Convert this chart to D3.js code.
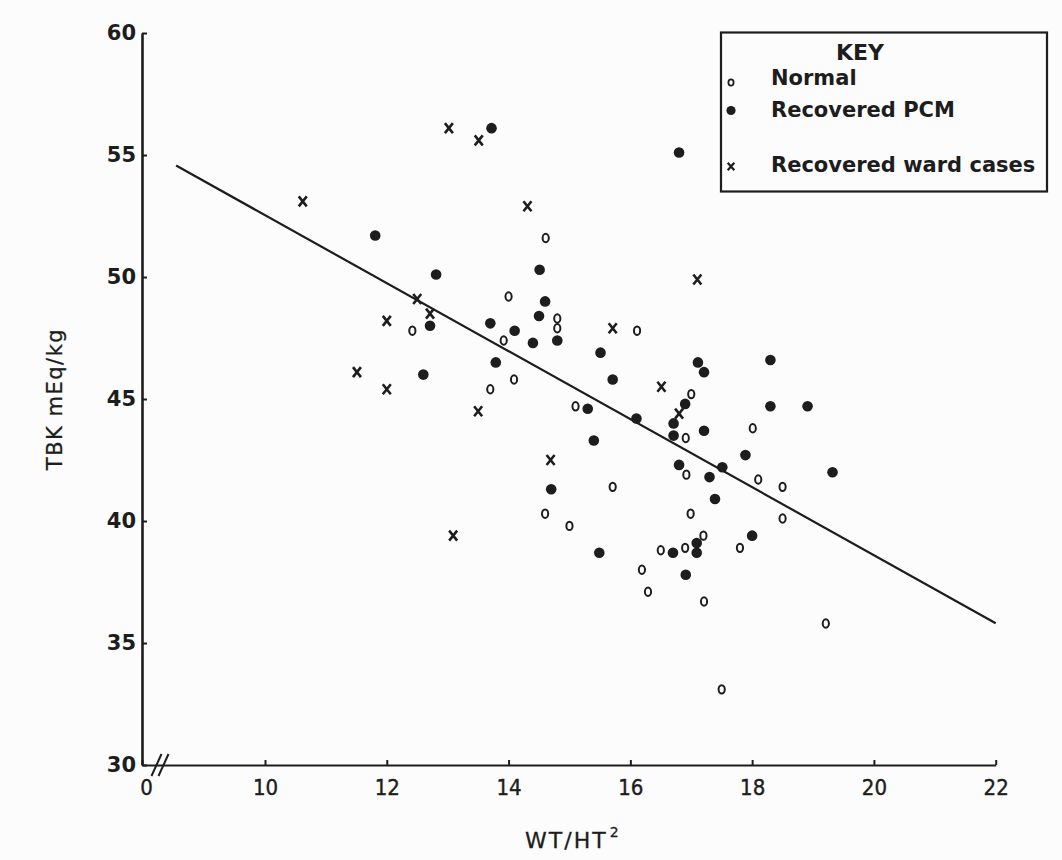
<!DOCTYPE html>
<html><head><meta charset="utf-8">
<script src="https://cdn.jsdelivr.net/npm/d3@7/dist/d3.min.js"></script>
<style>
body{margin:0;background:#fcfcfc;}
svg{display:block;}
</style>
</head><body>
<svg id="chart" width="1062" height="860"></svg>
<script>
// ---------- data ----------
const normalX = [14.61,14.00,14.80,14.80,12.42,16.11,13.92,14.09,13.70,15.10,17.00,16.91,18.01,16.92,18.10,18.50,15.71,18.50,14.60,15.00,16.99,16.50,16.90,17.20,17.80,16.19,16.29,17.21,19.21,17.50];
const normalY = [51.6,49.2,48.3,47.9,47.8,47.8,47.4,45.8,45.4,44.7,45.2,43.4,43.8,41.9,41.7,41.4,41.4,40.1,40.3,39.8,40.3,38.8,38.9,39.4,38.9,38.0,37.1,36.7,35.8,33.1];

const pcmX = [13.72,16.80,11.81,12.81,14.51,14.60,14.50,12.71,13.70,14.10,14.40,14.80,13.79,12.60,15.51,15.71,17.11,17.21,18.30,15.40,15.30,16.10,16.90,16.71,16.71,17.21,18.30,18.91,17.89,16.80,17.51,17.30,19.32,14.70,17.39,15.49,16.70,17.09,17.09,18.00,16.91];
const pcmY = [56.1,55.1,51.7,50.1,50.3,49.0,48.4,48.0,48.1,47.8,47.3,47.4,46.5,46.0,46.9,45.8,46.5,46.1,46.6,43.3,44.6,44.2,44.8,44.0,43.5,43.7,44.7,44.7,42.7,42.3,42.2,41.8,42.0,41.3,40.9,38.7,38.7,39.1,38.7,39.4,37.8];

const wardX = [13.02,13.51,10.62,14.31,12.50,12.71,12.00,15.71,11.51,12.00,13.50,16.51,16.80,14.69,13.09,17.10];
const wardY = [56.1,55.6,53.1,52.9,49.1,48.5,48.2,47.9,46.1,45.4,44.5,45.5,44.4,42.5,39.4,49.9];

const lineX = [8.54, 22];
const lineY = [54.57, 35.81];

const xTickValues = [10, 12, 14, 16, 18, 20, 22];
const yTickValues = [30, 35, 40, 45, 50, 55, 60];
const xAxisStart = 7.98;           // value at the broken origin, labelled "0"
const xOriginLabel = "0";
const seriesLabels = ["Normal", "Recovered PCM", "Recovered ward cases"];
const keyTitle = "KEY";
const yTitle = "TBK mEq/kg";

// ---------- layout ----------
const ink = "#1d1d1d";
const svg = d3.select("#chart");
const x = d3.scaleLinear().domain([xAxisStart, 22]).range([142, 995.7]);
const y = d3.scaleLinear().domain([30, 60]).range([765, 33]);

// x axis
const gx = svg.append("g").attr("transform", `translate(0,${y(30)})`)
  .call(d3.axisBottom(x)
    .tickValues([xAxisStart, ...xTickValues])
    .tickFormat(d => d === xAxisStart ? xOriginLabel : d)
    .tickSize(-5).tickSizeOuter(0).tickPadding(14));
gx.select(".domain").attr("stroke", ink).attr("stroke-width", 2.2);
gx.selectAll(".tick line").attr("stroke", ink).attr("stroke-width", 2);
gx.selectAll(".tick text")
  .attr("fill", ink)
  .attr("font-family", "'DejaVu Sans Condensed','DejaVu Sans',sans-serif")
  .attr("font-stretch", "condensed")
  .attr("font-size", 22)
  .attr("stroke", ink).attr("stroke-width", 0.4)
  .attr("dx", d => d === xAxisStart ? 4 : 0);

// y axis
const gy = svg.append("g").attr("transform", `translate(${x(xAxisStart)},0)`)
  .call(d3.axisLeft(y).tickValues(yTickValues).tickSize(-5).tickSizeOuter(0).tickPadding(6));
gy.select(".domain").attr("stroke", ink).attr("stroke-width", 2.6);
gy.selectAll(".tick line").attr("stroke", ink).attr("stroke-width", 2);
gy.selectAll(".tick text")
  .attr("fill", ink)
  .attr("font-family", "'DejaVu Sans',sans-serif")
  .attr("font-weight", "bold")
  .attr("font-size", 21);

// axis break "//"
const bx = x(xAxisStart) + 18, by = y(30);
[-3.5, 3.5].forEach(o => {
  svg.append("line")
    .attr("x1", bx + o - 5).attr("y1", by + 11)
    .attr("x2", bx + o + 5).attr("y2", by - 11)
    .attr("stroke", ink).attr("stroke-width", 2);
});

// axis titles
svg.append("text")
  .attr("transform", `translate(62,${(y(30) + y(60)) / 2}) rotate(-90)`)
  .attr("text-anchor", "middle")
  .attr("font-family", "'DejaVu Sans',sans-serif")
  .attr("font-size", 21).attr("letter-spacing", 1.5)
  .attr("stroke", ink).attr("stroke-width", 0.3)
  .attr("fill", ink).text(yTitle);

const xt = svg.append("text")
  .attr("x", (x(xAxisStart) + x(22)) / 2 + 4).attr("y", 848)
  .attr("text-anchor", "middle")
  .attr("font-family", "'DejaVu Sans',sans-serif")
  .attr("font-size", 22).attr("letter-spacing", 2)
  .attr("stroke", ink).attr("stroke-width", 0.3)
  .attr("fill", ink);
xt.append("tspan").text("WT/HT");
xt.append("tspan").attr("font-size", 14).attr("dy", -11).attr("dx", 2).text("2");

// regression line
svg.append("path")
  .datum(d3.zip(lineX, lineY))
  .attr("d", d3.line().x(d => x(d[0])).y(d => y(d[1])))
  .attr("fill", "none").attr("stroke", ink).attr("stroke-width", 2.2);

// marker helpers
function drawNormal(sel) {
  sel.append("ellipse").attr("rx", 3.1).attr("ry", 4.2)
    .attr("fill", "none").attr("stroke", ink).attr("stroke-width", 2);
}
function drawPcm(sel) {
  sel.append("circle").attr("r", 5.3).attr("fill", ink);
}
function drawWard(sel) {
  sel.append("path")
    .attr("d", "M-4,-5L4,5M4,-5L-4,5")
    .attr("stroke", ink).attr("stroke-width", 2.6).attr("fill", "none");
}

function plot(xs, ys, drawer) {
  const g = svg.append("g");
  g.selectAll("g").data(d3.zip(xs, ys)).join("g")
    .attr("transform", d => `translate(${x(d[0])},${y(d[1])})`)
    .each(function () { drawer(d3.select(this)); });
}
plot(normalX, normalY, drawNormal);
plot(pcmX, pcmY, drawPcm);
plot(wardX, wardY, drawWard);

// legend
const lg = svg.append("g").attr("transform", "translate(721,32.5)");
lg.append("rect").attr("width", 326).attr("height", 159)
  .attr("fill", "none").attr("stroke", ink).attr("stroke-width", 2.2);
lg.append("text").attr("x", 139).attr("y", 27).attr("text-anchor", "middle")
  .attr("font-family", "'DejaVu Sans',sans-serif").attr("font-weight", "bold")
  .attr("font-size", 22).attr("fill", ink).text(keyTitle);
const rows = [
  {label: seriesLabels[0], dy: 52, sy: 50, draw: g => g.append("ellipse").attr("rx", 2.6).attr("ry", 3.2).attr("fill", "none").attr("stroke", ink).attr("stroke-width", 1.8)},
  {label: seriesLabels[1], dy: 84, sy: 78, draw: g => g.append("circle").attr("r", 4.6).attr("fill", ink)},
  {label: seriesLabels[2], dy: 139, sy: 134, draw: g => g.append("path").attr("d", "M-3.3,-3.8L3.3,3.8M3.3,-3.8L-3.3,3.8").attr("stroke", ink).attr("stroke-width", 2.2)}
];
rows.forEach(r => {
  const s = lg.append("g").attr("transform", `translate(10,${r.sy})`);
  r.draw(s);
  lg.append("text").attr("x", 50).attr("y", r.dy)
    .attr("font-family", "'DejaVu Sans',sans-serif").attr("font-weight", "bold")
    .attr("font-size", 21).attr("fill", ink).text(r.label);
});
</script>
</body></html>
